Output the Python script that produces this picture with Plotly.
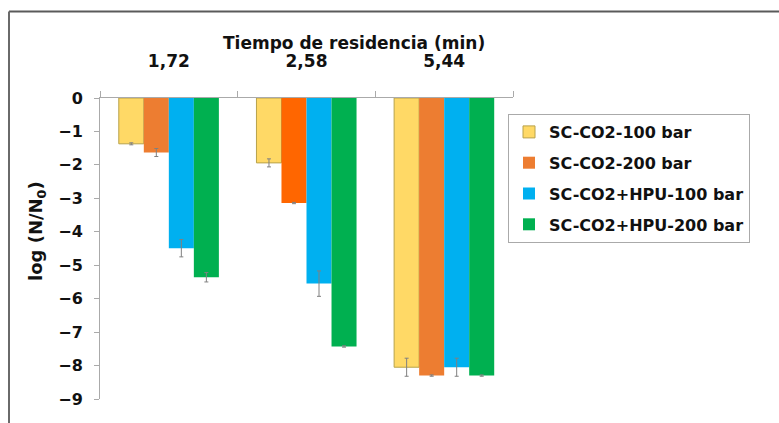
import plotly.graph_objects as go

categories = ["1,72", "2,58", "5,44"]
series_names = ["SC-CO2-100 bar", "SC-CO2-200 bar", "SC-CO2+HPU-100 bar", "SC-CO2+HPU-200 bar"]
sc100 = [-1.37, -1.94, -8.05]
sc200 = [-1.63, -3.14, -8.30]
hpu100 = [-4.49, -5.55, -8.05]
hpu200 = [-5.36, -7.43, -8.30]
err_sc100 = [0.03, 0.12, 0.27]
err_sc200 = [0.12, 0.02, 0.02]
err_hpu100 = [0.26, 0.38, 0.27]
err_hpu200 = [0.14, 0.02, 0.02]
x_title = "Tiempo de residencia (min)"
y_title = "log (N/N<sub>0</sub>)"

values = [sc100, sc200, hpu100, hpu200]
errors = [err_sc100, err_sc200, err_hpu100, err_hpu200]
colors = ["#FFD966", ["#ED7D31", "#FF6600", "#ED7D31"], "#00B0F0", "#00B050"]
line_colors = ["#B8A24A", None, None, None]

FONT = "DejaVu Sans"

fig = go.Figure()
for i in range(4):
    lc = line_colors[i]
    fig.add_trace(go.Bar(
        x=categories, y=values[i], name=series_names[i],
        legendgroup=str(i),
        marker=dict(color=colors[i],
                    line=dict(color=lc if lc else "rgba(0,0,0,0)", width=1 if lc else 0)),
        error_y=dict(type="data", array=errors[i], symmetric=True,
                     color="#808080", thickness=1, width=2),
    ))

W, H = 779, 423
ml, mr, mt, mb = 100, 266, 98, 24
pw = W - ml - mr
ph = H - mt - mb

def px_x(p):
    return (p - ml) / pw

def px_y(p):
    return (H - mb - p) / ph

fig.update_layout(
    width=W, height=H,
    margin=dict(l=ml, r=mr, t=mt, b=mb, autoexpand=False),
    paper_bgcolor="white", plot_bgcolor="white",
    barmode="group", bargap=0.273, bargroupgap=0,
    font=dict(family=FONT, color="black"),
    showlegend=True,
    legend=dict(
        x=px_x(508), y=px_y(114), xanchor="left", yanchor="top",
        bordercolor="#AAAAAA", borderwidth=1, bgcolor="white",
        font=dict(family=FONT, size=16, color="#111111", weight="bold"),
        tracegroupgap=7, traceorder="grouped",
        itemwidth=30,
    ),
    xaxis=dict(
        type="category", side="top",
        tickson="boundaries", ticks="outside", ticklen=6, tickcolor="#AAAAAA",
        showline=True, linecolor="#AAAAAA", linewidth=1,
        showgrid=False, zeroline=False,
        tickfont=dict(family=FONT, size=17, color="#111111", weight="bold"),
        ticklabelstandoff=23,
    ),
    yaxis=dict(
        range=[-9, 0], dtick=1, tick0=0,
        ticks="outside", ticklen=5, tickcolor="#AAAAAA",
        showline=True, linecolor="#AAAAAA", linewidth=1,
        showgrid=False, zeroline=False,
        tickfont=dict(family=FONT, size=16, color="#111111", weight="bold"),
        ticklabelstandoff=8,
    ),
    annotations=[
        dict(text=x_title, xref="paper", yref="paper",
             x=px_x(354), y=px_y(43), xanchor="center", yanchor="middle",
             showarrow=False,
             font=dict(family=FONT, size=17, color="#111111", weight="bold")),
        dict(text=y_title, xref="paper", yref="paper", textangle=-90,
             x=px_x(37), y=px_y(231), xanchor="center", yanchor="middle",
             showarrow=False,
             font=dict(family=FONT, size=18, color="#111111", weight="bold")),
    ],
    shapes=[
        dict(type="line", xref="paper", yref="paper",
             x0=px_x(9), x1=px_x(780), y0=px_y(11.5), y1=px_y(11.5),
             line=dict(color="#5A5A5A", width=2)),
        dict(type="line", xref="paper", yref="paper",
             x0=px_x(9), x1=px_x(9), y0=px_y(11.5), y1=px_y(424),
             line=dict(color="#6A6A6A", width=2)),
    ],
)

fig.write_html("out.html")
